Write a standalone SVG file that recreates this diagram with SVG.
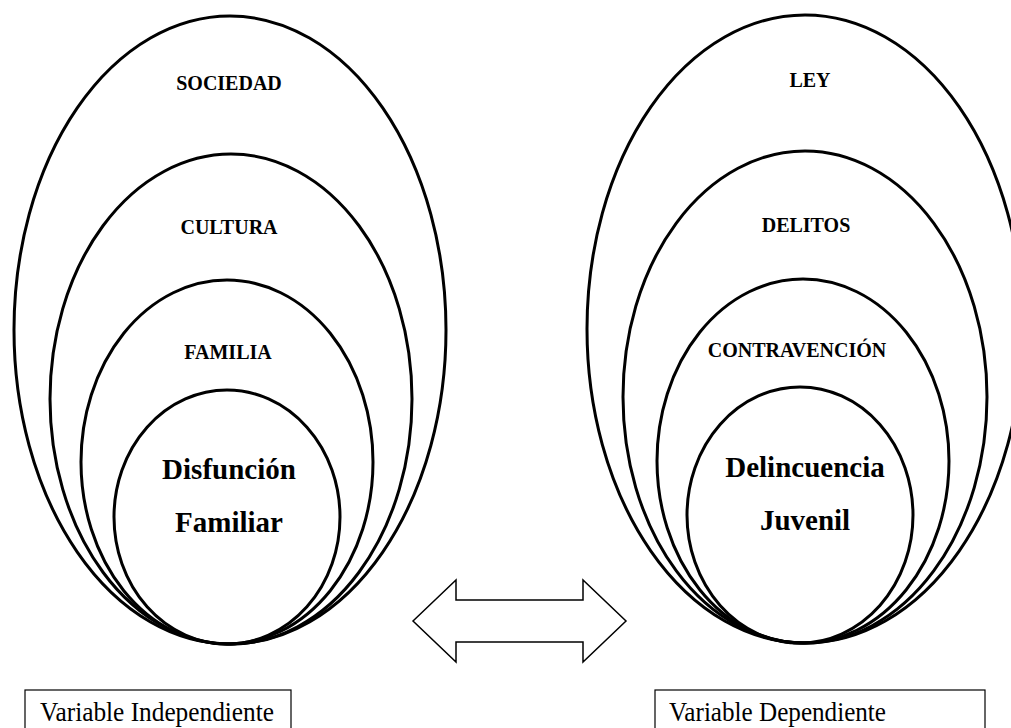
<svg xmlns="http://www.w3.org/2000/svg" width="1011" height="728" viewBox="0 0 1011 728">
<style>
.e{fill:none;stroke:#000;stroke-width:3}
.lbl{font-family:"Liberation Serif","Times New Roman",serif;font-weight:bold;font-size:20px;text-anchor:middle;fill:#000}
.core{font-family:"Liberation Serif","Times New Roman",serif;font-weight:bold;font-size:29px;text-anchor:middle;fill:#000}
.box{fill:#fff;stroke:#000;stroke-width:1.2}
.bt{font-family:"Liberation Serif","Times New Roman",serif;font-size:27px;fill:#000}
</style>
<rect width="1011" height="728" fill="#fff"/>
<g id="left-group">
<g id="sociedad"><ellipse class="e" cx="230" cy="330" rx="216" ry="314"/><text class="lbl" x="229" y="90">SOCIEDAD</text></g>
<g id="cultura"><ellipse class="e" cx="231" cy="399" rx="181" ry="245"/><text class="lbl" x="229" y="234">CULTURA</text></g>
<g id="familia"><ellipse class="e" cx="227" cy="462" rx="146" ry="182"/><text class="lbl" x="228" y="359">FAMILIA</text></g>
<g id="disfuncion"><ellipse class="e" cx="227" cy="517" rx="113" ry="127"/><text class="core" x="229" y="479">Disfunción</text><text class="core" x="229" y="532">Familiar</text></g>
</g>
<g id="right-group">
<g id="ley"><ellipse class="e" cx="805" cy="329" rx="218" ry="314"/><text class="lbl" x="810" y="87">LEY</text></g>
<g id="delitos"><ellipse class="e" cx="805" cy="397" rx="182" ry="246"/><text class="lbl" x="806" y="232">DELITOS</text></g>
<g id="contravencion"><ellipse class="e" cx="803" cy="461" rx="146" ry="182"/><text class="lbl" x="797" y="357">CONTRAVENCIÓN</text></g>
<g id="delincuencia"><ellipse class="e" cx="800" cy="515" rx="113" ry="128"/><text class="core" x="805" y="477">Delincuencia</text><text class="core" x="805" y="530">Juvenil</text></g>
</g>
<g id="connectors">
<polygon points="413,621 456,580 456,600 583,600 583,580 626,621 583,662 583,642 456,642 456,662" fill="#fff" stroke="#000" stroke-width="1.5"/>
</g>
<g id="box-independiente"><rect class="box" x="25" y="690" width="266" height="50"/><text class="bt" x="40" y="721" textLength="234" lengthAdjust="spacingAndGlyphs">Variable Independiente</text></g>
<g id="box-dependiente"><rect class="box" x="655" y="690" width="330" height="50"/><text class="bt" x="669" y="721" textLength="217" lengthAdjust="spacingAndGlyphs">Variable Dependiente</text></g>
</svg>
